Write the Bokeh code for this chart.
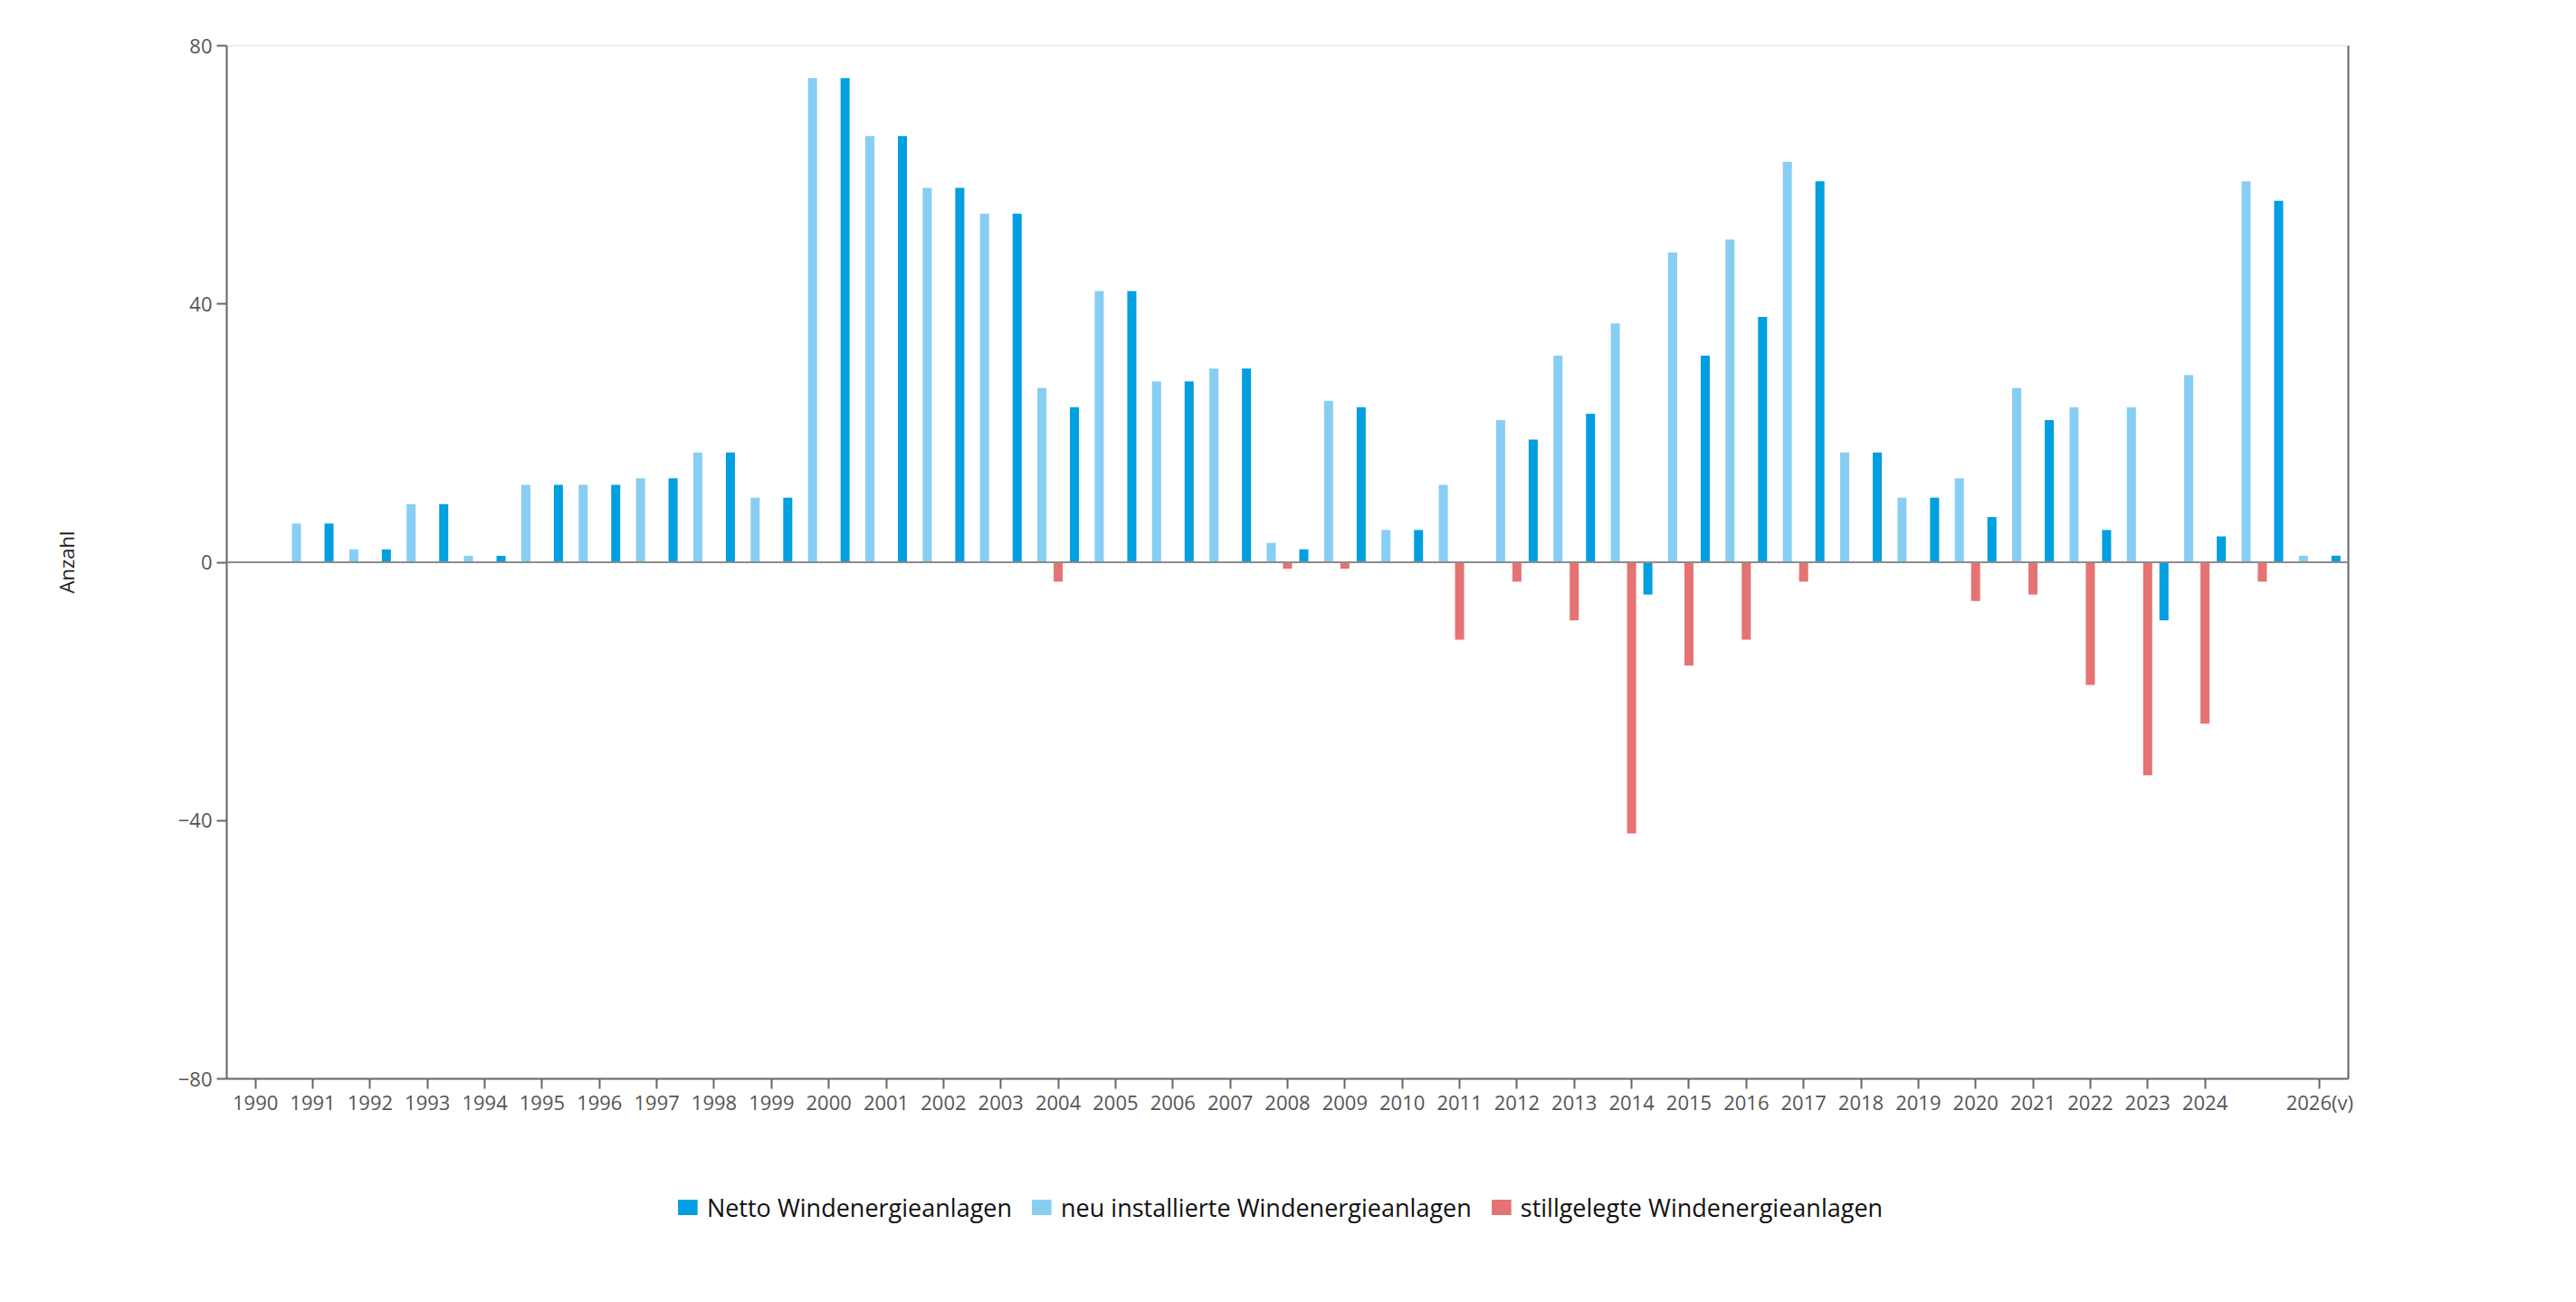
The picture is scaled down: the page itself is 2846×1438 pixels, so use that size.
from bokeh.plotting import figure
from bokeh.layouts import column
from bokeh.models import (ColumnDataSource, Legend, LegendItem, Span, FixedTicker,
                          LinearAxis, Range1d)
from bokeh.transform import dodge
from bokeh.embed import file_html
from bokeh.resources import INLINE

# ---- data ----
years = list(range(1990, 2027))
tick_years = [y for y in years if y != 2025]
tick_labels = {2026: "2026(v)"}
neu = [0, 6, 2, 9, 1, 12, 12, 13, 17, 10, 75, 66, 58, 54, 27, 42, 28, 30, 3, 25,
       5, 12, 22, 32, 37, 48, 50, 62, 17, 10, 13, 27, 24, 24, 29, 59, 1]
still = [0, 0, 0, 0, 0, 0, 0, 0, 0, 0, 0, 0, 0, 0, -3, 0, 0, 0, -1, -1,
         0, -12, -3, -9, -42, -16, -12, -3, 0, 0, -6, -5, -19, -33, -25, -3, 0]
netto = [0, 6, 2, 9, 1, 12, 12, 13, 17, 10, 75, 66, 58, 54, 24, 42, 28, 30, 2, 24,
         5, 0, 19, 23, -5, 32, 38, 59, 17, 10, 7, 22, 5, -9, 4, 56, 1]
y_ticks = [-80, -40, 0, 40, 80]
series_names = ["Netto Windenergieanlagen", "neu installierte Windenergieanlagen",
                "stillgelegte Windenergieanlagen"]

C_NETTO = "#009fe0"
C_NEU = "#87cef2"
C_STILL = "#e57373"
FONT = "Open Sans"


def src(vals):
    xs = [y for y, v in zip(years, vals) if v != 0]
    vs = [v for v in vals if v != 0]
    return ColumnDataSource(dict(year=xs, val=vs))


p = figure(width=2830, height=1258, output_backend="svg", toolbar_location=None,
           x_range=Range1d(1989.5, 2026.5), y_range=Range1d(-80, 80),
           min_border_left=250, min_border_right=236,
           min_border_top=50, min_border_bottom=67)
p.grid.visible = False
p.outline_line_color = "#eeeeee"
p.outline_line_width = 2
p.background_fill_color = "white"

bw = 0.158
off = 0.284
p.vbar(x=dodge("year", -off), top="val", bottom=0, width=bw,
       source=src(neu), fill_color=C_NEU, line_color=None)
p.vbar(x=dodge("year", 0.0), top="val", bottom=0, width=bw,
       source=src(still), fill_color=C_STILL, line_color=None)
p.vbar(x=dodge("year", off), top="val", bottom=0, width=bw,
       source=src(netto), fill_color=C_NETTO, line_color=None)

p.add_layout(Span(location=0, dimension="width", line_color="#8c8c8c", line_width=2))

# x axis
xa = p.xaxis[0]
xa.ticker = FixedTicker(ticks=tick_years)
xa.major_label_overrides = tick_labels
xa.minor_tick_line_color = None
xa.major_tick_in = 0
xa.major_tick_out = 11
xa.major_tick_line_color = "#666666"
xa.major_tick_line_width = 2
xa.axis_line_color = "#666666"
xa.axis_line_width = 2
xa.major_label_text_font = FONT
xa.major_label_text_font_size = "22px"
xa.major_label_text_color = "#555555"
xa.major_label_standoff = -1

# y axis
ya = p.yaxis[0]
ya.ticker = FixedTicker(ticks=y_ticks)
ya.minor_tick_line_color = None
ya.major_tick_in = 0
ya.major_tick_out = 11
ya.major_tick_line_color = "#666666"
ya.major_tick_line_width = 2
ya.axis_line_color = "#666666"
ya.axis_line_width = 2
ya.major_label_text_font = FONT
ya.major_label_text_font_size = "22px"
ya.major_label_text_color = "#555555"
ya.major_label_standoff = 5
ya.axis_label = "Anzahl"
ya.axis_label_text_font = FONT
ya.axis_label_text_font_size = "22px"
ya.axis_label_text_font_style = "normal"
ya.axis_label_text_color = "#222222"
ya.axis_label_standoff = 106

# right axis line only
ra = LinearAxis(ticker=FixedTicker(ticks=[]), major_tick_line_color=None,
                minor_tick_line_color=None, major_label_text_color=None,
                axis_line_color="#666666", axis_line_width=2)
p.add_layout(ra, "right")

# ---- legend strip (swatch renderers lie outside its visible range) ----
pl = figure(width=2812, height=150, output_backend="svg", toolbar_location=None,
            x_range=Range1d(0, 1), y_range=Range1d(0, 1),
            x_axis_location=None, y_axis_location=None,
            min_border=0)
pl.grid.visible = False
pl.outline_line_color = None
lr = [pl.vbar(x=[-10], top=[-10], bottom=[-11], width=0.1,
              fill_color=c, line_color=None) for c in (C_NETTO, C_NEU, C_STILL)]
legend = Legend(items=[LegendItem(label=n, renderers=[r]) for n, r in zip(series_names, lr)],
                orientation="horizontal", location="center",
                border_line_color=None, background_fill_alpha=0,
                label_text_font=FONT, label_text_font_size="27px",
                label_text_color="#111111",
                glyph_width=27, glyph_height=21, label_standoff=8, spacing=19,
                margin=0, padding=5)
pl.add_layout(legend)

open("out.html", "w").write(file_html(column(p, pl, spacing=0), INLINE))
